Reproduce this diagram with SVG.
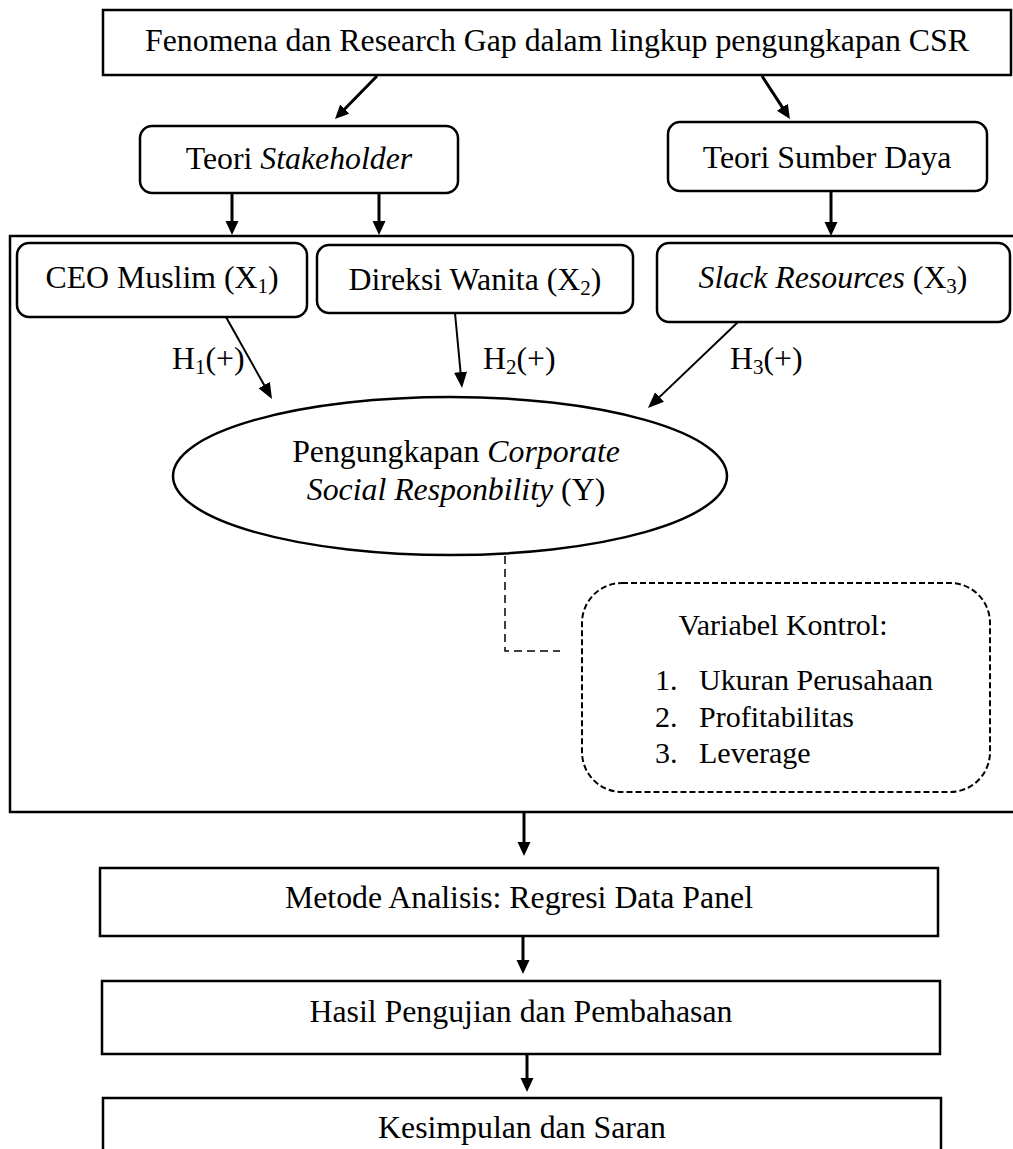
<svg xmlns="http://www.w3.org/2000/svg" width="1013" height="1149" viewBox="0 0 1013 1149">
<style>
text{font-family:"Liberation Serif","Times New Roman",serif;font-size:31.8px;fill:#000}
.c{text-anchor:middle}
.i{font-style:italic}
.box{fill:#fff;stroke:#000;stroke-width:2.5}
.frame{fill:none;stroke:#000;stroke-width:2.5}
.dash{fill:none;stroke:#000;stroke-width:2;stroke-dasharray:6 3}
.dl{fill:none;stroke:#000;stroke-width:1.5;stroke-dasharray:8 5}
.a{stroke:#000;stroke-width:3;fill:none;marker-end:url(#ah)}
.h{stroke:#000;stroke-width:2;fill:none;marker-end:url(#ahs)}
.sm{font-size:30px}
</style>
<defs>
<marker id="ah" markerUnits="userSpaceOnUse" markerWidth="16" markerHeight="14" refX="4" refY="6.5" orient="auto"><path d="M0,0 L14,6.5 L0,13 z" fill="#000"/></marker>
<marker id="ahs" markerUnits="userSpaceOnUse" markerWidth="18" markerHeight="14" refX="6" refY="6.5" orient="auto"><path d="M0,0 L16,6.5 L0,13 z" fill="#000"/></marker>
</defs>
<rect x="0" y="0" width="1013" height="1149" fill="#fff"/>
<g id="frame"><rect class="frame" x="10" y="236" width="1015" height="576"/></g>
<g id="n-top"><rect class="box" x="103" y="10" width="908" height="65"/><text class="c" x="557" y="51">Fenomena dan Research Gap dalam lingkup pengungkapan CSR</text></g>
<g id="n-stakeholder"><rect class="box" x="140" y="126" width="318" height="67" rx="12"/><text class="c" x="299" y="169">Teori <tspan class="i">Stakeholder</tspan></text></g>
<g id="n-sumberdaya"><rect class="box" x="668" y="122" width="319" height="69" rx="12"/><text class="c" x="827" y="168">Teori Sumber Daya</text></g>
<g id="n-ceo"><rect class="box" x="17" y="243" width="290" height="74" rx="12"/><text class="c" x="162" y="288">CEO Muslim (X<tspan font-size="21" dy="5">1</tspan><tspan dy="-5">)</tspan></text></g>
<g id="n-direksi"><rect class="box" x="317" y="245" width="316" height="68" rx="12"/><text class="c" x="475" y="290">Direksi Wanita (X<tspan font-size="21" dy="5">2</tspan><tspan dy="-5">)</tspan></text></g>
<g id="n-slack"><rect class="box" x="657" y="243" width="353" height="79" rx="12"/><text class="c" x="833" y="288"><tspan class="i">Slack Resources</tspan> (X<tspan font-size="21" dy="5">3</tspan><tspan dy="-5">)</tspan></text></g>
<g id="n-csr"><ellipse class="box" cx="450" cy="476" rx="277" ry="79"/><text class="c" x="456" y="462">Pengungkapan <tspan class="i">Corporate</tspan></text><text class="c" x="456" y="500"><tspan class="i">Social Responbility</tspan> (Y)</text></g>
<g id="n-kontrol"><rect class="dash" x="582" y="583" width="408" height="209" rx="40"/>
<text class="c sm" x="783" y="635">Variabel Kontrol:</text>
<text class="sm" x="655" y="690">1.</text><text class="sm" x="699" y="690">Ukuran Perusahaan</text>
<text class="sm" x="655" y="727">2.</text><text class="sm" x="699" y="727">Profitabilitas</text>
<text class="sm" x="655" y="763">3.</text><text class="sm" x="699" y="763">Leverage</text></g>
<g id="n-metode"><rect class="box" x="100" y="868" width="838" height="68"/><text class="c" x="519" y="908">Metode Analisis: Regresi Data Panel</text></g>
<g id="n-hasil"><rect class="box" x="102" y="981" width="838" height="73"/><text class="c" x="521" y="1022">Hasil Pengujian dan Pembahasan</text></g>
<g id="n-kesimpulan"><rect class="box" x="103" y="1098" width="838" height="70"/><text class="c" x="522" y="1138">Kesimpulan dan Saran</text></g>
<g id="connectors">
<line class="a" x1="377" y1="76" x2="342" y2="111.8"/>
<line class="a" x1="762" y1="76" x2="784.5" y2="110.6"/>
<line class="a" x1="232" y1="193" x2="232" y2="225"/>
<line class="a" x1="379" y1="193" x2="379" y2="225"/>
<line class="a" x1="831" y1="191" x2="831" y2="226"/>
<line class="h" x1="226" y1="317" x2="267.1" y2="390.3"/>
<line class="h" x1="455" y1="313" x2="461.1" y2="378"/>
<line class="h" x1="738" y1="322" x2="655.2" y2="401.1"/>
<polyline class="dl" points="505,556 505,651 560,651"/>
<line class="a" x1="524" y1="812" x2="524" y2="846"/>
<line class="a" x1="523" y1="936" x2="523" y2="964"/>
<line class="a" x1="527" y1="1054" x2="527" y2="1082"/>
<text x="172" y="369">H<tspan font-size="21" dy="5">1</tspan><tspan dy="-5">(+)</tspan></text>
<text x="483" y="369">H<tspan font-size="21" dy="5">2</tspan><tspan dy="-5">(+)</tspan></text>
<text x="730" y="369">H<tspan font-size="21" dy="5">3</tspan><tspan dy="-5">(+)</tspan></text>
</g>
</svg>
